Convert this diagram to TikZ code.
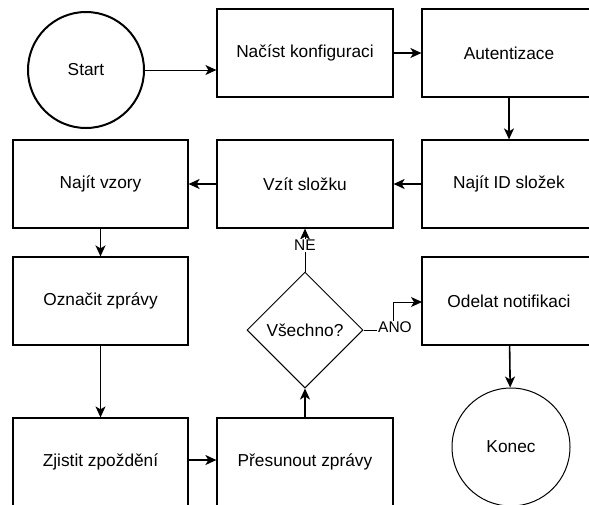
\documentclass[tikz,border=0pt]{standalone}
\usepackage{fontspec}
\setmainfont{Liberation Sans}
\usetikzlibrary{shapes.geometric,arrows.meta,calc}
\begin{document}
\begin{tikzpicture}[x=1pt,y=-1pt,
  box/.style={draw,line width=1.2pt,minimum height=88pt,inner sep=0pt,font=\fontsize{17.3}{19}\selectfont},
  circ/.style={draw,circle,inner sep=0pt,font=\fontsize{17.3}{19}\selectfont},
  dec/.style={draw,diamond,line width=1pt,minimum width=116pt,minimum height=116pt,inner sep=0pt,font=\fontsize{17.3}{19}\selectfont},
  arr/.style={-{Stealth[length=11pt,width=10pt,inset=3pt]},line width=1.6pt},
  tarr/.style={-{Stealth[length=11pt,width=10pt,inset=3pt]},line width=1pt},
  lab/.style={fill=white,inner sep=1pt,font=\fontsize{15.5}{17}\selectfont}]
\useasboundingbox (0,0) rectangle (589,504);
\clip (0,0) rectangle (589,504);
\node[circ,line width=2pt,minimum size=116pt] (start) at (86,70) {Start};
\node[box,minimum width=176pt] (nacist) at (305,53) {Načíst konfiguraci};
\node[box,minimum width=174pt] (auten) at (509,53) {Autentizace};
\node[box,minimum width=174pt] (najitid) at (509,184) {Najít ID složek};
\node[box,minimum width=176pt] (vzit) at (305,184) {Vzít složku};
\node[box,minimum width=175pt] (vzory) at (100.5,184) {Najít vzory};
\node[box,minimum width=175pt] (oznacit) at (100.5,301) {Označit zprávy};
\node[box,minimum width=175pt] (zjistit) at (100.5,462) {Zjistit zpoždění};
\node[box,minimum width=176pt] (presun) at (305,462) {Přesunout zprávy};
\node[dec] (dia) at (305,330) {Všechno?};
\node[box,minimum width=174pt] (odelat) at (509,301) {Odelat notifikaci};
\node[circ,line width=1pt,minimum size=118pt] (konec) at (511,447) {Konec};
\coordinate (anoc) at (393,330);
\coordinate (anoin) at (422,302);
\draw[tarr] (start.east) -- (nacist.west |- start.east);
\draw[arr] (nacist) -- (auten);
\draw[arr] (auten) -- (najitid);
\draw[arr] (najitid) -- (vzit);
\draw[arr] (vzit) -- (vzory);
\draw[arr] (vzory) -- (oznacit);
\draw[tarr] (oznacit) -- (zjistit);
\draw[arr] (zjistit.east |- 0,460) -- (presun.west |- 0,460);
\draw[arr] (presun) -- (dia);
\draw[tarr] (dia.north) -- node[lab,pos=0.61] (ne) {NE} (vzit.south);
\draw[tarr] (dia.east) -- (anoc) |- (anoin);
\node[lab] (ano) at (395,327) {ANO};
\draw[arr] (odelat) -- (konec);
\end{tikzpicture}
\end{document}
